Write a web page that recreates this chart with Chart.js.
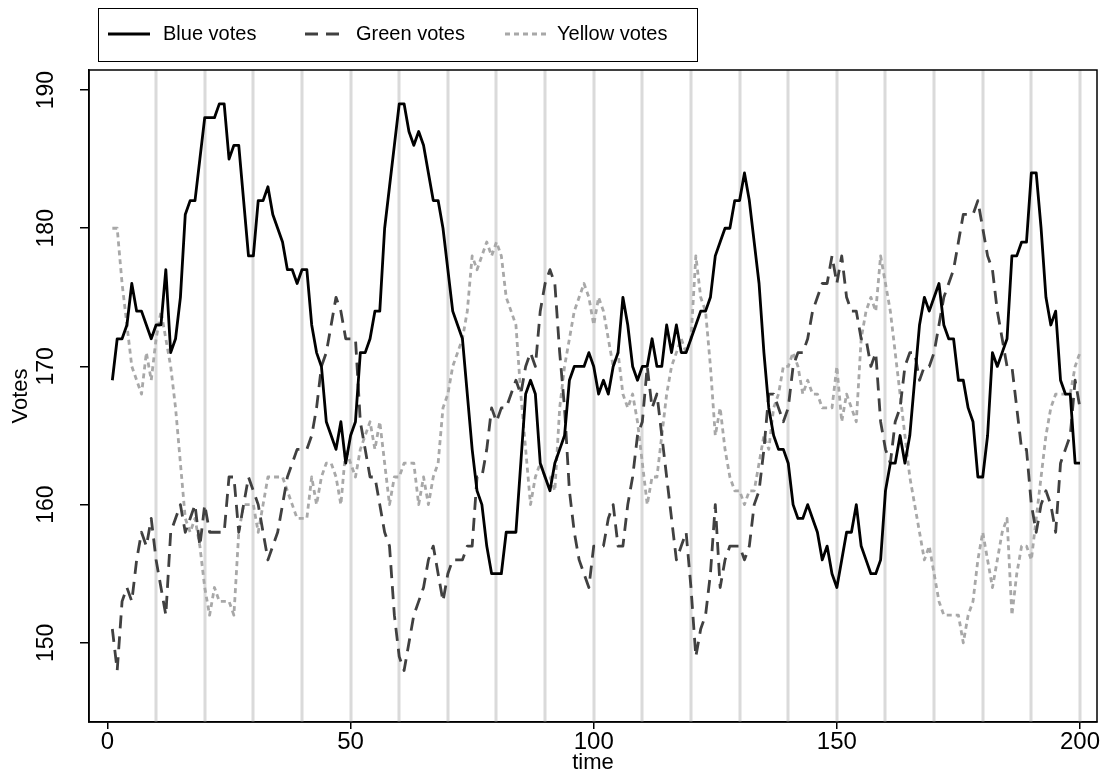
<!DOCTYPE html>
<html>
<head>
<meta charset="utf-8">
<script src="https://cdn.jsdelivr.net/npm/chart.js@4.4.1/dist/chart.umd.min.js"></script>
<style>
html, body { margin: 0; padding: 0; background: #fff; }
#wrap { width: 1110px; height: 772px; }
</style>
</head>
<body>
<div id="wrap"><canvas id="chart" width="1110" height="772"></canvas></div>
<script>
// time steps 1..200
const time = Array.from({length: 200}, (_, i) => i + 1);

const blueVotes = [
  169,172,172,173,176,174,174,173,172,173, 173,177,171,172,175,181,182,182,185,188,
  188,188,189,189,185,186,186,182,178,178, 182,182,183,181,180,179,177,177,176,177,
  177,173,171,170,166,165,164,166,163,165, 166,171,171,172,174,174,180,183,186,189,
  189,187,186,187,186,184,182,182,180,177, 174,173,172,168,164,161,160,157,155,155,
  155,158,158,158,163,168,169,168,163,162, 161,163,164,165,169,170,170,170,171,170,
  168,169,168,170,171,175,173,170,169,170, 170,172,170,170,173,171,173,171,171,172,
  173,174,174,175,178,179,180,180,182,182, 184,182,179,176,171,167,165,164,164,163,
  160,159,159,160,159,158,156,157,155,154, 156,158,158,160,157,156,155,155,156,161,
  163,163,165,163,165,169,173,175,174,175, 176,173,172,172,169,169,167,166,162,162,
  165,171,170,171,172,178,178,179,179,184, 184,180,175,173,174,169,168,168,163,163
];
const greenVotes = [
  151,148,153,154,153,156,158,157,159,156, 154,152,158,159,160,158,159,160,157,160,
  158,158,158,158,162,162,158,160,162,161, 160,158,156,157,158,160,162,163,164,164,
  164,165,167,170,171,173,175,174,172,172, 172,166,164,162,162,160,158,157,152,149,
  148,150,152,153,154,156,157,155,153,155, 156,156,156,157,157,162,162,164,167,166,
  167,167,168,169,168,170,171,170,174,176, 177,176,171,167,161,158,156,155,154,157,
  157,157,159,160,157,157,160,162,165,166, 170,167,168,165,162,159,156,157,158,154,
  149,151,152,155,160,154,156,157,157,157, 156,157,160,161,164,168,168,167,166,167,
  170,171,171,172,174,175,176,176,178,176, 178,175,174,174,172,172,170,171,166,164,
  163,166,167,170,171,171,169,170,170,171, 173,175,176,177,179,181,181,181,182,180,
  178,177,174,172,170,170,167,164,164,160, 158,160,161,160,158,163,164,165,169,167
];
const yellowVotes = [
  180,180,176,173,170,169,168,171,169,172, 174,172,170,167,163,159,158,159,157,154,
  152,154,153,153,153,152,158,160,160,160, 158,160,162,162,162,162,161,160,159,159,
  159,162,160,162,163,163,162,160,164,163, 162,164,165,166,164,166,163,160,162,162,
  163,163,163,160,162,160,162,163,167,168, 170,171,172,174,178,177,178,179,178,179,
  178,175,174,173,168,164,160,162,163,162, 162,161,167,170,172,174,175,176,175,173,
  175,174,172,170,171,168,167,168,166,163, 160,162,162,165,168,170,171,172,171,172,
  178,175,174,170,165,167,164,162,161,161, 160,161,161,163,165,164,167,168,170,170,
  171,170,168,169,168,168,167,167,167,170, 166,168,167,166,172,174,175,174,178,176,
  174,171,168,165,162,160,158,156,157,155, 153,152,152,152,152,150,152,153,156,158,
  156,154,156,158,159,152,155,157,157,156, 159,162,165,167,168,168,168,168,170,171
];

const xTicks = [0, 50, 100, 150, 200];
const yTicks = [150, 160, 170, 180, 190];
const gridTimes = [10, 20, 30, 40, 50, 60, 70, 80, 90, 100, 110, 120, 130, 140, 150, 160, 170, 180, 190, 200];

const FONT = "'Liberation Sans', Arial, sans-serif";

function pts(vals) { return vals.map((v, i) => ({x: time[i], y: v})); }

const rPlot = {
  id: 'rPlot',
  beforeDatasetsDraw(chart) {
    const {ctx, chartArea: a, scales: {x}} = chart;
    ctx.save();
    ctx.strokeStyle = '#dadada';
    ctx.lineWidth = 3;
    gridTimes.forEach(t => {
      const px = Math.round(x.getPixelForValue(t));
      ctx.beginPath(); ctx.moveTo(px, a.top); ctx.lineTo(px, a.bottom); ctx.stroke();
    });
    ctx.restore();
  },
  afterDraw(chart) {
    const {ctx, chartArea: a, scales: {y}} = chart;
    ctx.save();
    // box
    ctx.strokeStyle = '#000'; ctx.lineWidth = 1.5;
    ctx.strokeRect(a.left, a.top, a.right - a.left, a.bottom - a.top);
    // rotated y tick labels
    ctx.fillStyle = '#000';
    ctx.font = '23px ' + FONT;
    ctx.textAlign = 'center'; ctx.textBaseline = 'alphabetic';
    yTicks.forEach(v => {
      const py = y.getPixelForValue(v);
      ctx.save(); ctx.translate(a.left - 36, py); ctx.rotate(-Math.PI / 2);
      ctx.fillText(String(v), 0, 0); ctx.restore();
    });
    // legend
    ctx.lineWidth = 1; ctx.strokeStyle = '#000';
    ctx.strokeRect(98.5, 8.5, 599, 53);
    const items = [[108, 163], [305, 356], [505, 557]];
    ctx.font = '20px ' + FONT; ctx.textAlign = 'left'; ctx.textBaseline = 'middle';
    chart.data.datasets.forEach((ds, i) => {
      const [lx, tx] = items[i];
      ctx.save();
      ctx.strokeStyle = ds.borderColor; ctx.lineWidth = ds.borderWidth;
      ctx.setLineDash(ds.borderDash || []);
      ctx.beginPath(); ctx.moveTo(lx, 34); ctx.lineTo(lx + 42, 34); ctx.stroke();
      ctx.restore();
      ctx.fillStyle = '#000';
      ctx.fillText(ds.label, tx, 34);
    });
    ctx.restore();
  }
};

new Chart(document.getElementById('chart'), {
  type: 'line',
  data: {
    datasets: [
      {label: 'Blue votes', data: pts(blueVotes), borderColor: '#000000', borderWidth: 2.8},
      {label: 'Green votes', data: pts(greenVotes), borderColor: '#404040', borderWidth: 2.8, borderDash: [13, 8]},
      {label: 'Yellow votes', data: pts(yellowVotes), borderColor: '#a8a8a8', borderWidth: 2.8, borderDash: [5, 4]}
    ]
  },
  options: {
    responsive: false,
    animation: false,
    layout: {padding: {top: 70, right: 13, left: 0, bottom: 0}},
    elements: {point: {radius: 0}, line: {tension: 0, borderJoinStyle: 'round'}},
    plugins: {legend: {display: false}, tooltip: {enabled: false}},
    scales: {
      x: {
        type: 'linear', min: -3.8, max: 203.5,
        afterBuildTicks: s => { s.ticks = xTicks.map(v => ({value: v})); },
        afterFit: s => { s.height = 50; },
        grid: {drawOnChartArea: false, drawTicks: true, tickLength: 7, color: '#000', lineWidth: 1.5},
        border: {display: true, color: '#000', width: 1.5},
        ticks: {color: '#000', font: {family: FONT, size: 24, lineHeight: 1}, padding: 1, maxRotation: 0, autoSkip: false},
        title: {display: true, text: 'time', color: '#000', font: {family: FONT, size: 22, lineHeight: 1}, padding: {top: 0, bottom: -2}}
      },
      y: {
        min: 144.27, max: 191.45,
        afterBuildTicks: s => { s.ticks = yTicks.map(v => ({value: v})); },
        afterFit: s => { s.width = 89; },
        grid: {drawOnChartArea: false, drawTicks: true, tickLength: 9, color: '#000', lineWidth: 1.5},
        border: {display: true, color: '#000', width: 1.5},
        ticks: {display: false},
        title: {display: true, text: 'Votes', color: '#000', font: {family: FONT, size: 22}, padding: {top: 8, bottom: 0}}
      }
    }
  },
  plugins: [rPlot]
});
</script>
</body>
</html>
